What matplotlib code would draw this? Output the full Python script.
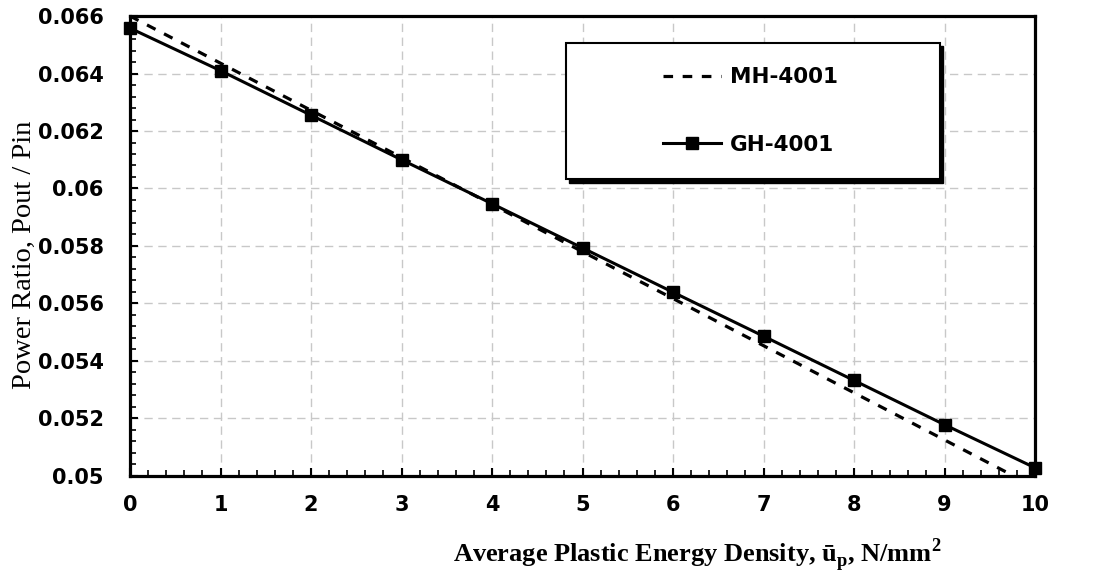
import matplotlib
matplotlib.use("Agg")
import matplotlib.pyplot as plt
from matplotlib.patches import Rectangle
from matplotlib.ticker import MultipleLocator, FuncFormatter

# values
energy_density = [0, 1, 2, 3, 4, 5, 6, 7, 8, 9, 10]
mh_4001 = [0.0660, 0.06436, 0.06272, 0.06108, 0.05944, 0.0578,
           0.05617, 0.05453, 0.05289, 0.05125, 0.04961]
gh_4001 = [0.06558, 0.0641, 0.06255, 0.0610, 0.05947, 0.05793,
           0.05639, 0.05486, 0.05332, 0.05178, 0.05028]
x_ticks = [0, 1, 2, 3, 4, 5, 6, 7, 8, 9, 10]
y_ticks = [0.05, 0.052, 0.054, 0.056, 0.058, 0.06, 0.062, 0.064, 0.066]

plt.rcParams["mathtext.fontset"] = "custom"
plt.rcParams["mathtext.rm"] = "Liberation Serif"
plt.rcParams["mathtext.bf"] = "Liberation Serif:bold"

fig = plt.figure(figsize=(10.99, 5.74), dpi=100)
ax = fig.add_axes([0.1183, 0.171, 0.8235, 0.801])

ax.plot(energy_density, mh_4001, color="black", linewidth=2.3,
        linestyle=(0, (3, 3)), label="MH-4001")
ax.plot(energy_density, gh_4001, color="black", linewidth=2.2,
        marker="s", markersize=9, clip_on=False, zorder=5, label="GH-4001")

ax.set_xlim(0, 10)
ax.set_ylim(0.05, 0.066)
ax.set_xticks(x_ticks)
ax.set_yticks(y_ticks)
ax.xaxis.set_minor_locator(MultipleLocator(0.2))
ax.yaxis.set_minor_locator(MultipleLocator(0.0004))
ax.yaxis.set_major_formatter(FuncFormatter(lambda v, p: f"{v:g}"))

ax.grid(True, which="major", color="#c8c8c8", linestyle=(0, (6, 4)), linewidth=1.0)
ax.set_axisbelow(True)

for spine in ax.spines.values():
    spine.set_linewidth(2.3)

ax.tick_params(axis="y", which="major", pad=19)
ax.tick_params(axis="x", which="major", pad=14)
ax.tick_params(which="major", direction="in", length=6, width=1.5)
ax.tick_params(which="minor", direction="in", length=4, width=1.2)
for lbl in ax.get_xticklabels() + ax.get_yticklabels():
    lbl.set_fontfamily("DejaVu Sans")
    lbl.set_fontweight("bold")
    lbl.set_fontsize(15)

ax.set_ylabel("Power Ratio, Pout / Pin", fontfamily="Liberation Serif",
              fontsize=20.5)
ax.yaxis.set_label_coords(-0.103, 0.48)

fig.text(0.634, 0.021, r"Average Plastic Energy Density, ū$_\mathbf{p}$, N/mm$^\mathbf{2}$",
         fontfamily="Liberation Serif", fontweight="bold", fontsize=19,
         ha="center", va="baseline")

# legend box with a solid shadow
box_x, box_y, box_w, box_h = 0.515, 0.688, 0.340, 0.237
fig.patches.append(Rectangle((box_x + 0.003, box_y - 0.006), box_w, box_h,
                             transform=fig.transFigure, facecolor="black",
                             edgecolor="black", zorder=10))
fig.patches.append(Rectangle((box_x, box_y), box_w, box_h,
                             transform=fig.transFigure, facecolor="white",
                             edgecolor="black", linewidth=1.5, zorder=11))
leg = fig.legend(loc="center", bbox_to_anchor=(box_x + box_w / 2 - 0.002, box_y + box_h / 2),
                 frameon=False, handlelength=2.7, handletextpad=0.4, labelspacing=2.2,
                 prop={"family": "DejaVu Sans", "weight": "bold", "size": 15.5})
leg.set_zorder(12)

fig.savefig("out.png", dpi=100)
